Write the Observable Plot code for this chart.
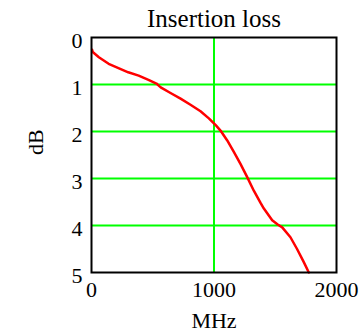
<!DOCTYPE html>
<html>
<head>
<meta charset="utf-8">
<script src="https://cdn.jsdelivr.net/npm/d3@7"></script>
<script src="https://cdn.jsdelivr.net/npm/@observablehq/plot@0.6"></script>
<style>
  html, body { margin: 0; padding: 0; background: #fff; }
  #chart svg, #chart svg text { font-family: "Liberation Serif", "Times New Roman", serif !important; }
</style>
</head>
<body>
<div id="chart"></div>
<script>
const title = "Insertion loss";
const xLabel = "MHz";
const yLabel = "dB";
const xTicks = [0, 1000, 2000];
const yTicks = [0, 1, 2, 3, 4, 5];
const xGrid = [1000];
const yGrid = [1, 2, 3, 4];
const freq = [5, 10, 60, 140, 220, 300, 385, 465, 530, 565, 645, 727, 808, 890, 958, 1016, 1053, 1108, 1163, 1216, 1271, 1325, 1380, 1407, 1475, 1520, 1557, 1624, 1678, 1733, 1774];
const loss = [0.26, 0.31, 0.42, 0.56, 0.65, 0.74, 0.81, 0.90, 0.98, 1.06, 1.18, 1.30, 1.43, 1.57, 1.72, 1.87, 1.98, 2.19, 2.44, 2.69, 2.97, 3.26, 3.52, 3.64, 3.89, 3.98, 4.04, 4.25, 4.50, 4.78, 5.0];

const data = freq.map((f, i) => ({f, l: loss[i]}));
const font = "Liberation Serif";

const chart = Plot.plot({
  width: 364,
  height: 333,
  marginTop: 37,
  marginBottom: 61,
  marginLeft: 91,
  marginRight: 28,
  style: {fontFamily: font, fontSize: "22px", background: "white", color: "black"},
  x: {domain: [0, 2000]},
  y: {domain: [0, 5], reverse: true},
  marks: [
    Plot.ruleX(xGrid, {stroke: "#00ff00", strokeWidth: 2}),
    Plot.ruleY(yGrid, {stroke: "#00ff00", strokeWidth: 2}),
    Plot.line(data, {x: "f", y: "l", stroke: "#ff0000", strokeWidth: 2.5}),
    Plot.frame({stroke: "#000", strokeWidth: 2}),
    Plot.axisX({ticks: xTicks, tickSize: 0, tickPadding: 9, tickFormat: d => String(d), label: null, fontSize: 22, fontFamily: font}),
    Plot.axisY({ticks: yTicks, tickSize: 0, tickPadding: 9, tickFormat: d => String(d), label: null, fontSize: 22, fontFamily: font, dy: 3}),
    Plot.text([title], {frameAnchor: "top", lineAnchor: "bottom", dy: -11, fontSize: 25, fontFamily: font}),
    Plot.text([xLabel], {frameAnchor: "bottom", lineAnchor: "middle", dy: 48, fontSize: 22, fontFamily: font}),
    Plot.text([yLabel], {frameAnchor: "left", lineAnchor: "middle", rotate: -90, dx: -56, fontSize: 22, fontFamily: font})
  ]
});
document.getElementById("chart").appendChild(chart);
</script>
</body>
</html>
